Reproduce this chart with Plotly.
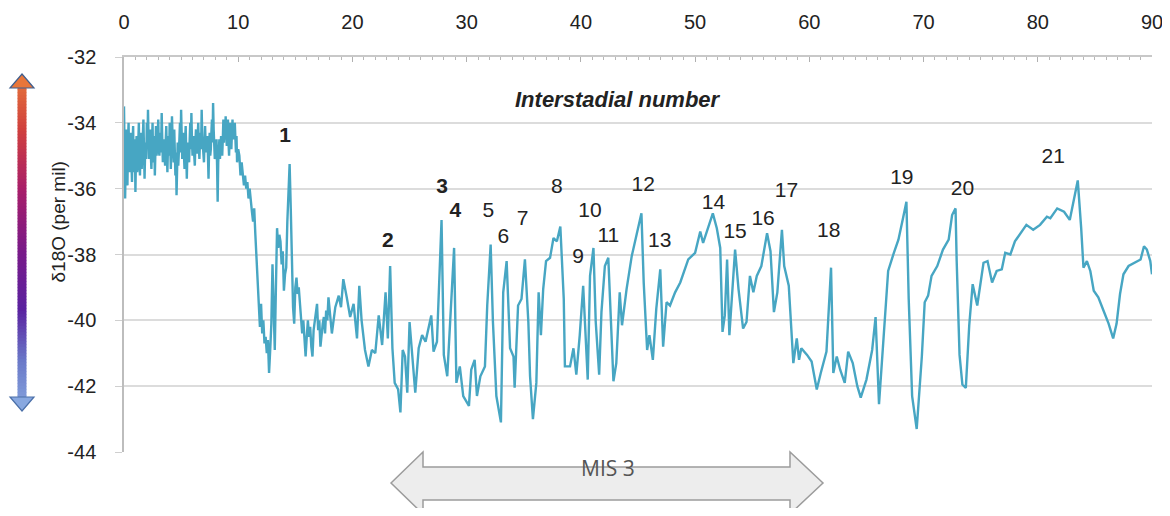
import numpy as np
import plotly.graph_objects as go

# ---------------- data ----------------
# 0-10 ka: densely sampled record; values at whole tenths and at the half steps between them
dense_d18o_tenths = [
    -33.5, -36.3, -34.2, -35.9, -34.0, -35.5, -34.3, -35.8, -34.1, -35.2,
    -36.1, -34.4, -35.3, -34.0, -35.6, -34.3, -35.0, -33.9, -35.7, -34.6,
    -34.0, -33.6, -35.1, -34.2, -35.4, -34.0, -34.9, -35.6, -34.1, -34.8,
    -33.9, -35.0, -34.3, -33.7, -35.2, -34.5, -35.3, -34.1, -35.5, -34.4,
    -34.0, -35.4, -33.8, -34.9, -34.2, -35.6, -36.2, -34.6, -35.0, -34.0,
    -33.6, -35.1, -34.3, -35.4, -34.1, -35.7, -34.6, -35.2, -34.0, -33.7,
    -35.0, -34.4, -35.3, -34.2, -34.9, -34.0, -35.1, -34.3, -33.6, -34.8,
    -35.2, -34.1, -34.9, -34.4, -35.7, -34.3, -34.8, -33.9, -33.4, -34.6,
    -35.0, -34.5, -36.4, -34.9, -35.1, -34.4, -35.0, -33.9, -34.2, -33.8,
    -34.7, -33.9, -35.0, -34.0, -34.8, -33.9, -34.4, -34.0, -34.9, -35.2,
    -34.8,
]
dense_d18o_halves = [
    -34.8, -35.0, -35.4, -34.6, -35.1, -34.8, -35.2, -34.6, -35.5, -34.5,
    -35.0, -35.5, -34.6, -35.2, -34.7, -35.4, -34.5, -34.8, -34.9, -35.1,
    -34.7, -34.5, -34.6, -35.0, -34.6, -35.2, -34.4, -34.9, -35.0, -34.3,
    -34.8, -34.5, -34.9, -34.5, -34.7, -35.0, -34.6, -34.9, -34.7, -35.0,
    -34.7, -34.6, -34.4, -35.2, -34.8, -34.9, -35.4, -35.3, -34.5, -34.9,
    -34.6, -34.6, -35.0, -34.6, -34.9, -34.9, -35.1, -34.5, -34.8, -34.5,
    -34.6, -35.0, -34.6, -34.9, -34.4, -34.7, -34.6, -34.8, -34.4, -35.0,
    -34.6, -34.7, -34.5, -35.0, -34.8, -35.0, -34.3, -34.6, -34.2, -35.1,
    -34.7, -35.3, -35.2, -34.5, -34.7, -34.8, -34.5, -34.6, -34.5, -34.3,
    -34.3, -34.6, -34.4, -34.5, -34.3, -34.5, -34.2, -34.6, -34.4, -34.9,
]

# 10.1-90 ka
age_ka = [
    10.1, 10.2, 10.3, 10.4, 10.5, 10.6, 10.7, 10.8, 10.9,
    11.0, 11.1, 11.2, 11.3, 11.4, 11.5, 11.6, 11.7, 11.8, 11.9,
    12.0, 12.1, 12.2, 12.3, 12.4, 12.5, 12.6, 12.7, 12.8, 12.9,
    13.0, 13.1, 13.2, 13.3, 13.4, 13.5, 13.6, 13.7, 13.8, 13.9,
    14.0, 14.1, 14.2, 14.3, 14.4, 14.5, 14.6, 14.7, 14.8, 14.9,
    15.0, 15.1, 15.2, 15.3, 15.4, 15.5, 15.6, 15.7, 15.8, 15.9,
    16.0, 16.1, 16.2, 16.3, 16.4, 16.5, 16.6, 16.7, 16.8, 16.9,
    17.0, 17.1, 17.2, 17.3, 17.4, 17.5, 17.6, 17.7, 17.8, 17.9,
    18.2, 18.5, 18.8, 19.0, 19.2, 19.5, 19.8, 20.1, 20.4, 20.6,
    20.8, 21.1, 21.4, 21.7, 22.0, 22.3, 22.6, 22.9, 23.1, 23.3,
    23.5, 23.7, 24.0, 24.2, 24.4, 24.6, 24.8, 25.0, 25.2, 25.5,
    25.8, 26.1, 26.4, 26.6, 26.9, 27.1, 27.4, 27.8, 28.0, 28.3,
    28.5, 28.9, 29.1, 29.4, 29.7, 30.2, 30.4, 30.7, 30.9, 31.2,
    31.6, 31.8, 32.1, 32.3, 32.6, 33.0, 33.2, 33.5, 33.8, 34.1,
    34.2, 34.5, 34.8, 35.1, 35.4, 35.55, 35.8, 36.1, 36.3, 36.5,
    36.7, 36.95, 37.3, 37.6, 37.9, 38.2, 38.5, 38.6, 39.05, 39.35,
    39.6, 39.9, 40.2, 40.4, 40.6, 40.8, 41.1, 41.3, 41.6, 41.8,
    42.1, 42.4, 42.7, 42.85, 43.1, 43.4, 43.6, 44.0, 44.45, 44.9,
    45.3, 45.5, 45.8, 46.0, 46.3, 46.6, 46.95, 47.2, 47.5, 47.8,
    48.25, 48.7, 49.1, 49.4, 50.0, 50.45, 50.7, 51.2, 51.55, 51.9,
    52.2, 52.4, 52.6, 52.8, 53.0, 53.5, 53.8, 54.2, 54.5, 54.8,
    55.1, 55.4, 55.8, 56.3, 56.6, 56.9, 57.2, 57.6, 57.8, 58.2,
    58.4, 58.6, 58.9, 59.1, 59.3, 59.8, 60.2, 60.65, 61.0, 61.5,
    61.9, 62.1, 62.4, 62.7, 63.1, 63.4, 63.8, 64.2, 64.5, 65.0,
    65.5, 65.8, 66.1, 66.5, 66.9, 67.4, 67.8, 68.2, 68.5, 68.7,
    69.0, 69.4, 69.85, 70.1, 70.4, 70.7, 71.2, 71.7, 72.2, 72.5,
    72.8, 72.9, 73.15, 73.4, 73.7, 74.0, 74.3, 74.7, 75.0, 75.25,
    75.6, 76.0, 76.4, 76.85, 77.15, 77.6, 78.0, 78.5, 79.0, 79.6,
    80.2, 80.8, 81.1, 81.7, 82.3, 82.8, 83.2, 83.5, 83.8, 84.0,
    84.3, 84.6, 84.9, 85.3, 85.75, 86.2, 86.6, 86.9, 87.2, 87.5,
    87.95, 88.5, 89.0, 89.3, 89.55, 89.85, 90.0,
]
d18o = [
    -35.0, -35.6, -35.2, -35.5, -35.9, -35.6, -36.0, -35.8, -36.3,
    -36.0, -36.5, -36.7, -37.0, -36.6, -37.4, -38.2, -38.8, -39.6, -40.2,
    -39.5, -40.4, -40.0, -40.7, -40.5, -41.0, -40.6, -41.6, -40.9, -40.1,
    -38.3, -39.5, -40.9, -39.0, -37.2, -37.8, -37.4, -37.6, -38.3, -37.9,
    -39.1, -38.6, -38.4, -37.0, -35.8, -35.25, -36.6, -38.5, -39.6, -40.1,
    -39.0, -38.7, -39.2, -39.0, -39.4, -39.8, -40.4, -40.0, -40.7, -41.1,
    -40.5, -40.0, -40.5, -40.2, -40.8, -41.1, -40.3, -40.0, -39.7, -39.5,
    -40.3, -40.0, -40.8, -40.3, -40.1, -39.9, -40.4, -39.7, -40.0, -39.3,
    -40.4, -39.6, -39.25, -39.6, -38.75, -39.3, -39.9, -39.5, -40.55, -38.95,
    -40.0, -40.9, -41.4, -40.9, -41.0, -39.85, -40.75, -39.15, -40.55, -38.35,
    -40.85, -41.9, -42.1, -42.8, -40.9, -41.1, -42.2, -40.05, -40.85, -42.2,
    -40.85, -40.45, -40.65, -40.35, -39.85, -40.95, -40.65, -36.95, -41.05, -41.7,
    -40.45, -37.8, -41.9, -41.4, -42.3, -42.6, -41.5, -41.2, -42.3, -41.7,
    -41.4, -39.55, -37.7, -40.05, -42.3, -43.1, -39.15, -38.2, -40.85, -41.1,
    -42.05, -39.55, -39.35, -38.15, -40.05, -41.7, -43.0, -41.9, -39.15, -40.45,
    -39.05, -38.2, -38.1, -37.5, -37.6, -37.15, -39.35, -41.4, -41.4, -40.85,
    -41.65, -40.45, -38.95, -40.55, -41.8, -38.65, -37.8, -40.05, -41.65, -39.75,
    -38.35, -38.1, -40.85, -41.85, -41.3, -39.15, -40.15, -39.05, -38.05, -37.35,
    -36.75, -38.85, -40.9, -40.45, -41.2, -39.65, -38.45, -40.8, -39.45, -39.55,
    -39.15, -38.85, -38.45, -38.15, -37.95, -37.3, -37.65, -37.15, -36.75, -37.2,
    -37.8, -40.35, -39.85, -38.15, -40.45, -37.85, -39.05, -40.25, -40.05, -38.65,
    -39.15, -38.65, -38.35, -37.35, -37.9, -39.75, -39.15, -37.25, -38.35, -38.95,
    -40.25, -41.3, -40.55, -41.2, -40.85, -41.05, -41.25, -42.1, -41.6, -40.95,
    -38.4, -41.6, -41.1, -41.5, -41.9, -40.95, -41.3, -42.0, -42.35, -41.8,
    -40.9, -39.9, -42.55, -40.35, -38.5, -37.95, -37.55, -36.9, -36.4, -39.35,
    -42.3, -43.3, -41.1, -39.45, -39.25, -38.65, -38.35, -37.85, -37.55, -36.8,
    -36.6, -38.2, -41.05, -41.95, -42.05, -40.15, -38.9, -39.55, -38.85, -38.25,
    -38.2, -38.85, -38.5, -38.45, -37.95, -38.0, -37.6, -37.35, -37.1, -37.25,
    -37.1, -36.85, -36.9, -36.6, -36.7, -36.95, -36.3, -35.75, -37.2, -38.4,
    -38.2, -38.5, -39.1, -39.3, -39.7, -40.1, -40.55, -40.1, -39.2, -38.6,
    -38.35, -38.25, -38.15, -37.75, -37.85, -38.2, -38.6,
]

interstadial_labels = ["1", "2", "3", "4", "5", "6", "7", "8", "9", "10", "11",
                       "12", "13", "14", "15", "16", "17", "18", "19", "20", "21"]
label_x = [14.1, 23.1, 27.85, 29.0, 31.9, 33.2, 34.9, 37.9, 39.75, 40.8, 42.4,
           45.45, 46.9, 51.6, 53.5, 55.95, 58.0, 61.7, 68.1, 73.4, 81.35]
label_y = [-34.43, -37.6, -35.98, -36.7, -36.7, -37.5, -36.95, -35.98, -38.1, -36.7, -37.45,
           -35.9, -37.6, -36.45, -37.35, -36.95, -36.1, -37.3, -35.7, -36.04, -35.05]
bold_labels = ["1", "2", "3", "4"]

x_ticks = [0, 10, 20, 30, 40, 50, 60, 70, 80, 90]
y_ticks = [-44, -42, -40, -38, -36, -34, -32]
y_tick_text = ["-44", "-42", "-40", "-38", "-36", "-34", "-32"]

# assemble the full series (dense part sampled every 0.05 ka)
dense_age = np.round(np.arange(len(dense_d18o_tenths) + len(dense_d18o_halves)) * 0.05, 2)
dense_vals = []
for i, v in enumerate(dense_d18o_tenths):
    dense_vals.append(v)
    if i < len(dense_d18o_halves):
        dense_vals.append(dense_d18o_halves[i])
all_age = list(dense_age) + age_ka
all_d18o = dense_vals + d18o

# ---------------- figure ----------------
# The page body adds an 8 px margin, so the figure is laid out 8 px inside the window.
OFF = 8
W, H = 1170 - OFF, 516 - 2 * OFF
ML, MT = 124 - OFF, 57 - OFF
MR = W - (1152 - OFF)
MB = H - (452 - OFF)
PW, PH = W - ML - MR, H - MT - MB


def px_x(px):
    """window x pixel -> paper fraction"""
    return (px - OFF - ML) / PW


def px_y(py):
    """window y pixel -> paper fraction"""
    return (H - MB - (py - OFF)) / PH


FONT = "Liberation Sans, Arial, sans-serif"
LINE_COLOR = "#47a6c3"

fig = go.Figure()
fig.add_trace(go.Scatter(
    x=all_age, y=all_d18o, mode="lines",
    line=dict(color=LINE_COLOR, width=2.4),
    hoverinfo="skip", showlegend=False,
))
fig.add_trace(go.Scatter(
    x=label_x, y=label_y, mode="text",
    text=[f"<b>{t}</b>" if t in bold_labels else t for t in interstadial_labels],
    textfont=dict(family=FONT, size=21, color="#222222"),
    hoverinfo="skip", showlegend=False,
))

shapes = []
# gradient double arrow on the left (decoration)
stops_py = [74, 130, 190, 250, 310, 360, 412]
stops_rgb = [(232, 120, 58), (208, 64, 62), (168, 30, 106), (122, 26, 136),
             (90, 34, 160), (106, 120, 200), (136, 168, 224)]
cx0, cx1 = 17.5, 26.5
y_top_shaft, y_bot_shaft = 86, 398
step = 3
for py in np.arange(y_top_shaft, y_bot_shaft, step):
    mid = py + step / 2
    rgb = [int(np.interp(mid, stops_py, [c[i] for c in stops_rgb])) for i in range(3)]
    col = f"rgb({rgb[0]},{rgb[1]},{rgb[2]})"
    shapes.append(dict(type="rect", xref="paper", yref="paper",
                       x0=px_x(cx0), x1=px_x(cx1), y0=px_y(py + step + 0.5), y1=px_y(py),
                       fillcolor=col, line=dict(width=0), layer="above"))
top_path = f"M {px_x(22)} {px_y(74)} L {px_x(34)} {px_y(88)} L {px_x(10)} {px_y(88)} Z"
bot_path = f"M {px_x(22)} {px_y(411)} L {px_x(34)} {px_y(397)} L {px_x(10)} {px_y(397)} Z"
shapes.append(dict(type="path", xref="paper", yref="paper", path=top_path,
                   fillcolor="rgb(232,118,58)", line=dict(color="#3f5f8f", width=1.2), layer="above"))
shapes.append(dict(type="path", xref="paper", yref="paper", path=bot_path,
                   fillcolor="rgb(136,168,224)", line=dict(color="#4a6fa8", width=1.2), layer="above"))

# MIS 3 double arrow under the plot
pts = [(391, 483), (423, 452), (423, 467), (790, 467), (790, 452), (823, 483),
       (790, 514), (790, 500), (423, 500), (423, 514)]
mis_path = "M " + " L ".join(f"{px_x(a)} {px_y(b)}" for a, b in pts) + " Z"
shapes.append(dict(type="path", xref="paper", yref="paper", path=mis_path,
                   fillcolor="#ededed", line=dict(color="#9c9c9c", width=1.5), layer="above"))

annotations = [
    dict(text="<b><i>Interstadial number</i></b>", x=43.25, y=-33.3, xref="x", yref="y",
         showarrow=False, font=dict(family=FONT, size=22, color="#222222")),
    dict(text="δ18O (per mil)", x=px_x(45), y=px_y(222), xref="paper", yref="paper",
         textangle=-90, showarrow=False, font=dict(family=FONT, size=19, color="#222222")),
    dict(text="MIS 3", x=px_x(608), y=px_y(484), xref="paper", yref="paper",
         showarrow=False, font=dict(family="Open Sans, Liberation Sans, sans-serif", size=21, color="#555555")),
]

fig.update_layout(
    width=W, height=H,
    margin=dict(l=ML, r=MR, t=MT, b=MB, autoexpand=False),
    paper_bgcolor="white", plot_bgcolor="white",
    shapes=shapes, annotations=annotations,
    font=dict(family=FONT, size=17, color="#222222"),
    xaxis=dict(
        side="top", range=[0, 90], tickvals=x_ticks, automargin=False,
        showgrid=False, zeroline=False,
        showline=True, linecolor="#c8c8c8", linewidth=1.5,
        ticks="inside", ticklen=5, tickcolor="#b0b0b0",
        minor=dict(dtick=1, ticks="inside", ticklen=3, tickcolor="#b8b8b8"),
        ticklabelstandoff=18, ticklabeloverflow="allow",
        tickfont=dict(family=FONT, size=20, color="#222222"),
    ),
    yaxis=dict(
        range=[-44, -32], tickvals=y_ticks, ticktext=y_tick_text, automargin=False,
        showgrid=True, gridcolor="#dcdcdc", gridwidth=1.5, zeroline=False,
        showline=True, linecolor="#bdbdbd", linewidth=1.5,
        ticks="outside", ticklen=7, tickcolor="#cfcfcf",
        ticklabelstandoff=15,
        tickfont=dict(family=FONT, size=20, color="#222222"),
    ),
)

fig.write_html("out.html")
